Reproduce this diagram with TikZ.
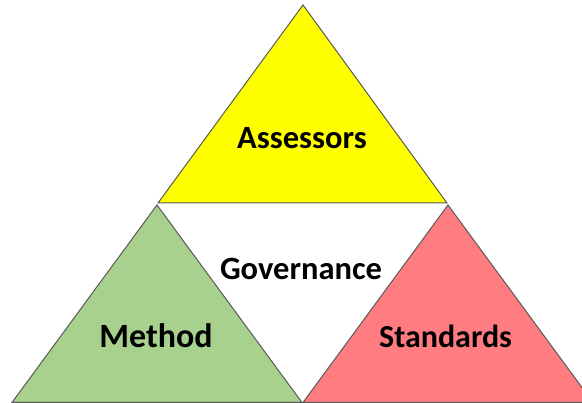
\documentclass[tikz,border=0pt]{standalone}
\usepackage{fontspec}
\setmainfont{Carlito}
\begin{document}
\begin{tikzpicture}[x=1pt,y=-1pt,
  tri/.style={draw=black!65,line width=1pt,line join=miter},
  lbl/.style={font=\bfseries\fontsize{#1}{#1}\selectfont,anchor=base,inner sep=0pt}]
\useasboundingbox (0,0) rectangle (582,403);
\begin{scope}
\clip (0,0) rectangle (582,403);
\coordinate (ta) at (303,5);
\coordinate (tl) at (158,203);
\coordinate (tr) at (447,203);
\coordinate (la) at (157,205);
\coordinate (ll) at (12,402.5);
\coordinate (lr) at (302,402.5);
\coordinate (ra) at (448,205);
\coordinate (rl) at (303,402.5);
\coordinate (rr) at (593,402.5);
\fill[white] (0,0) rectangle (582,403);
\draw[tri,fill={rgb,255:red,255;green,255;blue,0}] (ta) -- (tl) -- (tr) -- cycle;
\draw[tri,fill={rgb,255:red,169;green,209;blue,142}] (la) -- (ll) -- (lr) -- cycle;
\draw[tri,fill={rgb,255:red,255;green,124;blue,128}] (ra) -- (rl) -- (rr) -- cycle;
\end{scope}
\node[lbl=32.5] (assessors) at (302,149) {Assessors};
\node[lbl=32.5] (governance) at (301,280) {Governance};
\node[lbl=34] (method) at (156,348) {Method};
\node[lbl=32] (standards) at (445.5,348) {Standards};
\end{tikzpicture}
\end{document}
